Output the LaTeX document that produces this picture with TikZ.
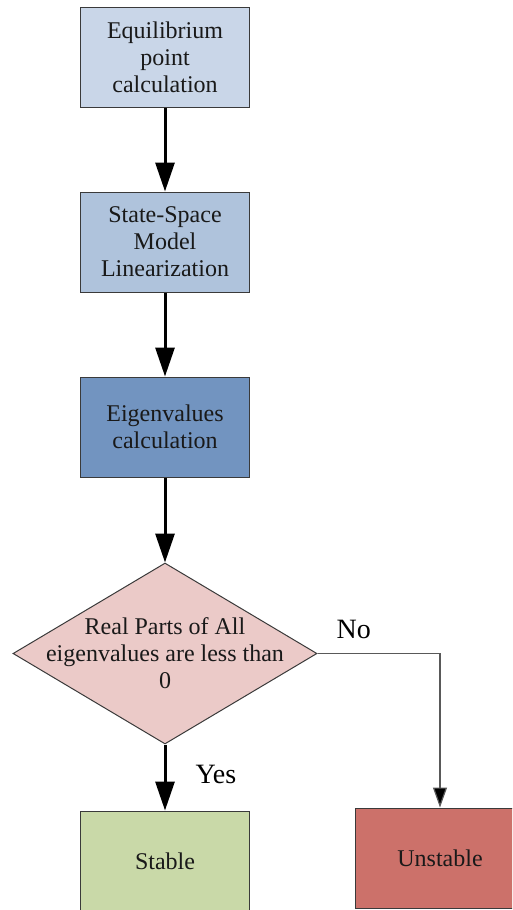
\documentclass[tikz,border=0pt]{standalone}
\usepackage{fontspec}
\setmainfont{Liberation Serif}
\newfontfamily\boxfont{Liberation Serif}
\usetikzlibrary{arrows.meta,shapes.geometric}
\definecolor{boxA}{HTML}{C9D6E8}
\definecolor{boxB}{HTML}{AFC3DC}
\definecolor{boxC}{HTML}{7294C0}
\definecolor{decfill}{HTML}{EBCAC8}
\definecolor{okfill}{HTML}{C9D9A8}
\definecolor{badfill}{HTML}{CC716A}
\definecolor{edge}{HTML}{3A3A3A}
\begin{document}
\begin{tikzpicture}[x=1pt,y=-1pt,
  txt/.style={font=\boxfont\fontsize{24}{27}\selectfont, align=center, text=black!90},
  stepbox/.style={draw=edge, line width=1pt, minimum width=169pt, minimum height=100pt,
                  inner sep=0pt, txt},
  flow/.style={line width=3pt, -{Triangle[length=29pt,width=19pt]}},
  branch/.style={draw=black!65, line width=1.2pt, -{Triangle[length=20pt,width=14pt,fill=black]}},
  lbl/.style={font=\boxfont\fontsize{28}{30}\selectfont, text=black}]
  \useasboundingbox (0,0) rectangle (512,910);
  \begin{scope}
  \clip (0,0) rectangle (512,910);
  % process steps
  \node[stepbox, fill=boxA] (eq)  at (165,57.5) {Equilibrium\\point\\calculation};
  \node[stepbox, fill=boxB] (lin) at (165,242)  {State-Space\\Model\\Linearization};
  \node[stepbox, fill=boxC] (eig) at (165,427)  {Eigenvalues\\calculation};
  % decision
  \node[diamond, draw=edge, line width=1pt, fill=decfill, inner sep=0pt,
        minimum width=304pt, minimum height=181pt] (dec) at (165,653.5) {};
  \node[txt] (dectext) at (dec.center) {Real Parts of All\\eigenvalues are less than\\0};
  % outcomes
  \node[stepbox, fill=okfill]  (st)  at (165,861)   {Stable};
  \node[stepbox, fill=badfill] (un)  at (440,858)   {Unstable};
  \coordinate (corner) at (un.north |- dec.east);
  % connectors
  \draw[flow] (eq.south) -- (lin.north);
  \draw[flow] (lin.south) -- (eig.north);
  \draw[flow] (eig.south) -- (dec.north);
  \draw[flow] (dec.south) -- (st.north);
  \draw[branch] (dec.east) -- (corner) -- (un.north);
  % branch labels
  \node[lbl, anchor=base west] (yes) at (192,783) {Yes};
  \node[lbl, anchor=base west] (no)  at (333,638) {No};
  \end{scope}
\end{tikzpicture}
\end{document}
